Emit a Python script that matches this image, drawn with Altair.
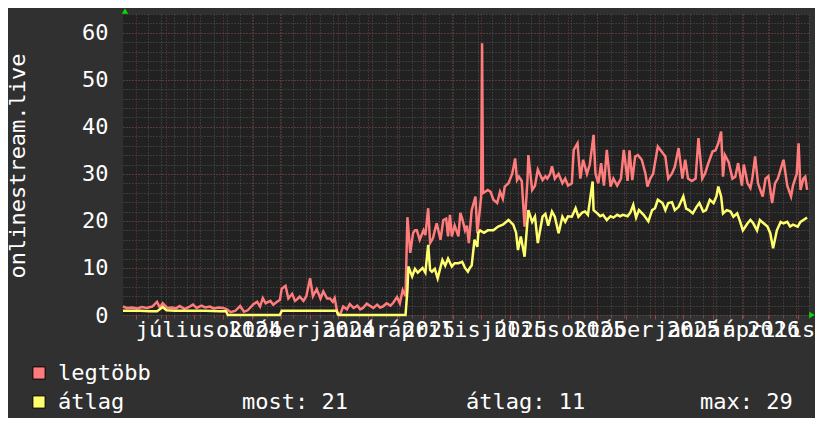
import altair as alt
import pandas as pd

START = pd.Timestamp("2024-04-17")

# (day offset from 2024-04-17, value)
max_series = [
    (0, 1.8), (4, 1.5), (10, 1.6), (15, 1.4), (20, 1.7), (25, 1.5), (31, 1.8), (36, 2.8), (39, 1.6),
    (42, 2.5), (47, 1.5), (52, 1.6), (56, 1.4), (60, 1.9), (65, 1.3), (69, 1.6), (74, 2.2), (78, 1.5),
    (83, 2.0), (87, 1.6), (92, 1.8), (96, 1.4), (101, 1.6), (106, 1.5), (110, 1.2), (114, 0.6),
    (119, 0.9), (124, 1.9), (128, 0.7), (132, 1.0), (138, 2.3), (142, 2.8), (145, 1.8), (148, 3.6),
    (151, 2.5), (156, 3.0), (159, 2.2), (163, 2.8), (166, 3.2), (168, 5.6), (172, 6.2), (175, 3.5),
    (179, 4.5), (182, 3.0), (184, 3.3), (187, 3.9), (191, 3.0), (194, 4.0), (198, 7.8), (201, 4.0),
    (205, 5.5), (209, 3.5), (212, 5.0), (216, 3.5), (219, 3.5), (222, 2.8), (224, 3.6), (227, 0.3),
    (230, 0.2), (233, 1.8), (237, 1.2), (240, 2.3), (244, 1.5), (248, 2.0), (251, 1.2), (254, 1.5),
    (258, 2.4), (261, 2.0), (265, 1.5), (269, 2.2), (272, 1.6), (275, 1.8), (279, 2.5), (283, 2.0),
    (286, 2.6), (290, 3.8), (293, 2.5), (296, 5.3), (299, 4.0), (301, 20.8), (304, 13.2), (307, 17.4),
    (309, 18.0), (311, 18.0), (314, 16.0), (318, 18.0), (320, 17.0), (323, 22.7), (325, 15.3),
    (328, 16.3), (330, 18.0), (332, 19.5), (336, 16.0), (339, 20.2), (342, 20.5), (344, 16.7),
    (346, 21.3), (348, 16.7), (351, 19.0), (355, 16.7), (357, 21.7), (359, 20.5), (362, 18.0),
    (364, 19.0), (366, 15.3), (369, 22.3), (373, 25.2), (375, 17.4), (379, 25.0), (380, 57.8),
    (381, 25.9), (386, 26.6), (389, 26.2), (392, 24.5), (396, 23.8), (399, 26.2), (402, 24.7),
    (404, 27.3), (408, 28.0), (412, 30.1), (415, 33.3), (417, 28.7), (419, 29.4), (422, 28.5),
    (425, 18.8), (428, 28.5), (429, 34.0), (433, 26.6), (436, 27.5), (439, 30.9), (444, 28.7),
    (447, 29.5), (449, 29.0), (452, 30.0), (454, 31.6), (457, 29.0), (461, 30.0), (465, 28.0),
    (468, 29.0), (471, 27.5), (475, 28.0), (477, 35.1), (481, 36.5), (484, 29.0), (487, 33.0),
    (491, 30.0), (494, 32.0), (498, 38.3), (500, 30.1), (503, 28.0), (506, 32.3), (509, 27.5),
    (512, 35.1), (516, 27.3), (519, 29.0), (523, 27.5), (527, 29.0), (530, 35.1), (534, 28.5),
    (536, 35.0), (539, 28.7), (542, 33.7), (545, 34.0), (549, 33.0), (553, 30.0), (555, 27.3),
    (558, 29.0), (561, 30.0), (566, 35.8), (571, 34.5), (574, 33.7), (577, 29.0), (581, 30.1),
    (584, 31.5), (588, 35.5), (592, 29.0), (595, 33.0), (598, 29.0), (602, 28.5), (606, 29.0),
    (609, 37.6), (613, 29.0), (616, 30.1), (619, 32.0), (624, 34.8), (627, 35.0), (630, 36.5),
    (633, 39.0), (635, 29.4), (637, 34.0), (641, 32.5), (645, 29.0), (648, 29.4), (651, 32.3),
    (655, 27.5), (657, 32.0), (661, 28.0), (664, 27.0), (666, 29.0), (669, 33.7), (672, 28.0),
    (677, 25.2), (680, 29.0), (683, 29.5), (687, 23.8), (690, 28.0), (693, 29.0), (699, 33.0),
    (703, 27.5), (707, 25.2), (709, 27.5), (713, 30.0), (715, 36.5), (717, 26.6), (720, 29.0),
    (722, 29.4), (724, 26.6),
]

avg_series = [
    (0, 0.9), (7, 0.9), (18, 0.9), (29, 0.8), (36, 0.8), (39, 1.2), (42, 1.7), (46, 1.0), (55, 0.9),
    (71, 0.9), (87, 0.9), (103, 0.8), (109, 0.8), (111, 0.0), (166, 0.0), (168, 0.9), (187, 0.9),
    (209, 0.9), (226, 0.9), (228, 0.0), (299, 0.0), (301, 5.3), (302, 10.3), (306, 8.2), (309, 9.8),
    (312, 9.0), (317, 10.0), (320, 9.0), (323, 14.9), (325, 9.6), (327, 9.2), (330, 9.8), (333, 7.8),
    (338, 11.7), (341, 10.5), (344, 12.0), (348, 10.3), (351, 11.0), (355, 11.0), (359, 11.3),
    (362, 10.0), (365, 9.2), (367, 10.0), (369, 10.5), (372, 16.0), (375, 14.5), (376, 17.4),
    (378, 18.0), (382, 17.5), (386, 18.0), (392, 18.0), (397, 18.8), (402, 19.2), (408, 20.2),
    (413, 19.2), (416, 17.5), (418, 13.8), (421, 16.7), (425, 12.4), (429, 22.3), (433, 19.8),
    (436, 20.9), (439, 15.3), (444, 20.9), (447, 21.5), (450, 19.0), (454, 22.0), (457, 20.9),
    (461, 17.4), (465, 20.9), (468, 19.8), (471, 21.0), (475, 20.9), (479, 22.7), (482, 20.9),
    (486, 21.8), (489, 22.0), (492, 21.3), (497, 28.4), (498, 22.3), (502, 21.6), (505, 21.0),
    (508, 21.3), (512, 20.2), (516, 21.0), (519, 20.7), (523, 21.3), (526, 21.0), (529, 21.3),
    (534, 21.0), (537, 21.8), (540, 23.4), (543, 20.7), (546, 22.3), (551, 21.3), (556, 19.9),
    (560, 22.3), (563, 22.7), (566, 24.5), (571, 23.8), (574, 22.3), (577, 23.8), (581, 24.0),
    (584, 22.3), (588, 23.0), (593, 25.2), (596, 22.6), (599, 22.3), (603, 21.6), (607, 23.0),
    (610, 23.8), (614, 22.0), (617, 22.3), (621, 24.5), (625, 23.8), (628, 25.2), (630, 27.3),
    (633, 25.2), (635, 21.6), (639, 22.3), (643, 22.0), (646, 20.9), (650, 21.6), (653, 19.9),
    (656, 18.0), (661, 19.5), (664, 20.2), (667, 19.5), (671, 18.0), (674, 20.2), (678, 19.5),
    (682, 18.8), (685, 17.4), (688, 14.2), (692, 18.0), (696, 19.8), (699, 19.5), (703, 19.8),
    (706, 18.8), (709, 19.2), (714, 18.8), (717, 19.8), (720, 20.2), (724, 20.7),
]

series_names = ["legtöbb", "átlag"]
series_colors = ["#ff7c7c", "#ffff6e"]
stat_labels = ["most: 21", "átlag: 11", "max: 29"]
y_major = [0, 10, 20, 30, 40, 50, 60]
y_minor = list(range(0, 65, 2))
month_names = ["január", "február", "március", "április", "május", "június", "július",
               "augusztus", "szeptember", "október", "november", "december"]
label_dates = [(2024, 7, 16), (2024, 10, 16), (2025, 1, 16), (2025, 4, 16),
               (2025, 7, 16), (2025, 10, 16), (2026, 1, 16), (2026, 4, 5)]
# fortnightly minor grid, starting on a Monday
minor_grid_dates = [pd.Timestamp("2024-05-13") + pd.Timedelta(days=14 * i) for i in range(52)]
y_title = "onlinestream.live"

FONT = "DejaVu Sans Mono"
FS = 22
MINOR = "#555555"
MAJOR = "#7a3838"


def frame(series):
    days, vals = zip(*series)
    dates = [(START + pd.Timedelta(days=d)).strftime("%Y-%m-%dT%H:%M:%S") for d in days]
    return pd.DataFrame({"date": dates, "v": vals})


dmax = frame(max_series)
davg = frame(avg_series)
one = pd.DataFrame({"k": [0]})

xscale = alt.Scale(domain=[alt.DateTime(year=2024, month=4, date=17),
                           alt.DateTime(year=2026, month=4, date=13)])
yscale = alt.Scale(domain=[0, 64], nice=False, zero=True)

minor_x = alt.Axis(orient="bottom", grid=True, gridColor=MINOR, gridDash=[1, 2], gridWidth=1,
                   values=[alt.DateTime(year=t.year, month=t.month, date=t.day)
                           for t in minor_grid_dates],
                   labels=False, ticks=True, tickColor=MINOR, tickSize=3, domain=False,
                   title=None)
minor_y = alt.Axis(orient="left", values=y_minor, grid=True, gridColor=MINOR, gridDash=[1, 2],
                   gridWidth=1, labels=False, ticks=False, domain=False, title=None)
major_x = alt.Axis(orient="bottom", grid=True, gridColor=MAJOR, gridDash=[1, 2], gridWidth=1,
                   tickCount={"interval": "month", "step": 1}, labels=False,
                   ticks=True, tickColor="#a04444", tickSize=4, domain=False, title=None)
major_y = alt.Axis(orient="left", values=y_major, grid=True, gridColor=MAJOR, gridDash=[1, 2],
                   gridWidth=1, labelFont=FONT, labelFontSize=FS, labelColor="white",
                   labelPadding=15, ticks=False, domain=False, title=None)
names_js = "[" + ",".join("'%s'" % m for m in month_names) + "]"
label_x = alt.Axis(orient="bottom",
                   values=[alt.DateTime(year=y, month=m, date=d) for y, m, d in label_dates],
                   labelExpr=names_js + "[month(datum.value)] + ' ' + year(datum.value)",
                   labelFont=FONT, labelFontSize=FS, labelColor="white", labelOverlap=False,
                   labelBound=False, labelFlush=False, labelPadding=4, grid=False,
                   ticks=False, domain=False, title=None)

minor_layer = alt.Chart(dmax).mark_line(opacity=0).encode(
    x=alt.X("date:T", scale=xscale, axis=minor_x), y=alt.Y("v:Q", scale=yscale, axis=minor_y))
major_layer = alt.Chart(dmax).mark_line(opacity=0).encode(
    x=alt.X("date:T", scale=xscale, axis=major_x), y=alt.Y("v:Q", scale=yscale, axis=major_y))
label_layer = alt.Chart(dmax).mark_line(opacity=0).encode(
    x=alt.X("date:T", scale=xscale, axis=label_x), y=alt.Y("v:Q", scale=yscale, axis=None))

max_line = alt.Chart(dmax).mark_line(color=series_colors[0], strokeWidth=2.5).encode(
    x=alt.X("date:T", scale=xscale, axis=None), y=alt.Y("v:Q", scale=yscale, axis=None))
avg_line = alt.Chart(davg).mark_line(color=series_colors[1], strokeWidth=2.5).encode(
    x=alt.X("date:T", scale=xscale, axis=None), y=alt.Y("v:Q", scale=yscale, axis=None))

arrow_up = alt.Chart(one).mark_point(shape="triangle-up", filled=True, color="#00e000",
                                     size=40, opacity=1).encode(
    x=alt.value(2), y=alt.value(-3))
arrow_right = alt.Chart(one).mark_point(shape="triangle-right", filled=True, color="#00e000",
                                        size=40, opacity=1).encode(
    x=alt.value(689), y=alt.value(301))


def txt(s, x, y, angle=0, align="left"):
    return alt.Chart(one).mark_text(text=s, font=FONT, fontSize=FS, color="white",
                                    align=align, baseline="middle", angle=angle).encode(
        x=alt.value(x), y=alt.value(y))


def box(color, x, y):
    return alt.Chart(one).mark_point(shape="square", filled=True, fill=color, stroke="black",
                                     strokeWidth=1, size=150, opacity=1).encode(
        x=alt.value(x), y=alt.value(y))


layers = [minor_layer, major_layer, label_layer, max_line, avg_line, arrow_up, arrow_right,
          txt(y_title, -105, 152, angle=270, align="center"),
          box(series_colors[0], -84, 359), txt(series_names[0], -65, 359),
          box(series_colors[1], -84, 388), txt(series_names[1], -65, 388),
          txt(stat_labels[0], 119, 388), txt(stat_labels[1], 343, 388),
          txt(stat_labels[2], 577, 388)]

chart = alt.layer(*layers).resolve_axis(x="independent", y="independent").properties(
    width=686, height=301,
    autosize=alt.AutoSizeParams(type="none"),
    padding={"left": 115, "top": 6, "right": 6, "bottom": 103},
    background="#303030",
).configure_view(fill="#212121", stroke=None)

chart.save("out.html", embed_options={"renderer": "svg", "actions": False})
